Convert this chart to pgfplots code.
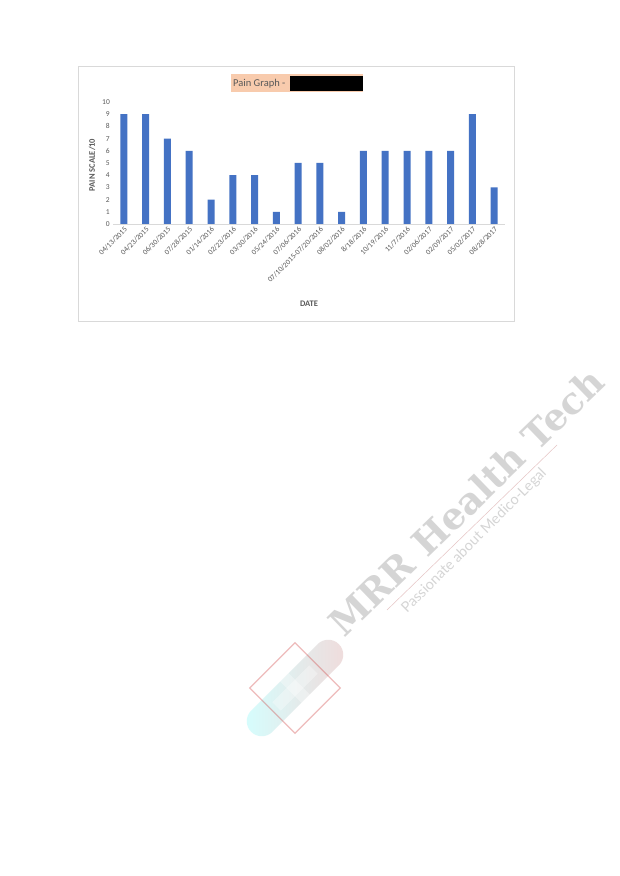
\documentclass[border=0pt]{standalone}
\usepackage{fontspec}
\setmainfont{Carlito}
\newfontfamily\wmfont{DejaVu Serif}
\newfontfamily\tagfont{Lato}
\usepackage{pgfplots}
\pgfplotsset{compat=1.18}
\definecolor{barblue}{HTML}{4472C4}
\definecolor{txtgray}{HTML}{595959}
\definecolor{peach}{HTML}{F8CBAD}
\definecolor{framegray}{HTML}{D9D9D9}
\begin{document}
\begin{tikzpicture}[x=1pt,y=1pt]
  % page
  \path[use as bounding box, fill=white] (0,0) rectangle (620,876);
  % chart frame
  \draw[framegray, line width=0.6] (78,555) rectangle (514,810);
  % title
  \fill[peach] (231,784) rectangle (363,802);
  \node[anchor=west, text=txtgray, font=\fontsize{10.5}{12}\selectfont, inner sep=0pt] at (233,792.5) {Pain Graph -};
  \fill[black] (290,785) rectangle (363,800);

  \begin{axis}[
      at={(113pt,652pt)}, anchor=south west,
      scale only axis, width=392pt, height=122pt,
      xmin=-0.5, xmax=17.5, ymin=0, ymax=10,
      ytick={0,1,...,10},
      xtick={0,1,...,17},
      xticklabels={04/13/2015,04/23/2015,06/30/2015,07/28/2015,01/14/2016,02/23/2016,03/30/2016,05/24/2016,07/06/2016,07/10/2015-07/20/2016,08/02/2016,8/18/2016,10/19/2016,11/7/2016,02/06/2017,02/09/2017,05/02/2017,08/28/2017},
      axis line style={draw=none},
      major tick length=0pt,
      tick label style={font=\fontsize{7.5}{8}\selectfont, text=txtgray},
      xticklabel style={rotate=45, anchor=north east, inner sep=1.5pt},
      yticklabel style={inner sep=3pt},
      /pgf/number format/assume math mode=true,
      clip=false,
    ]
    \draw[framegray, line width=0.6] (axis cs:-0.5,0) -- (axis cs:17.5,0);
    \addplot[ybar, bar width=7pt, fill=barblue, draw=none] coordinates {
      (0,9) (1,9) (2,7) (3,6) (4,2) (5,4) (6,4) (7,1) (8,5)
      (9,5) (10,1) (11,6) (12,6) (13,6) (14,6) (15,6) (16,9) (17,3)
    };
  \end{axis}

  % axis titles
  \node[rotate=90, text=txtgray, font=\fontsize{8.5}{10}\selectfont\bfseries] at (92,711) {PAIN SCALE/10};
  \node[text=txtgray, font=\fontsize{8.5}{10}\selectfont\bfseries] at (309,572) {DATE};

  % watermark
  \begin{scope}[opacity=0.33]
    \node[rotate=44, anchor=base west, inner sep=0pt, text=gray, font=\fontsize{37}{37}\wmfont\bfseries] at (344,237) {MRR Health Tech};
    \draw[red!40!gray, line width=0.5] (387,266) -- (557,431);
    \node[rotate=45, anchor=base west, inner sep=0pt, text=gray, font=\fontsize{14.5}{15}\tagfont] at (407,262) {Passionate about Medico-Legal};
    \begin{scope}[shift={(295,188)}, rotate=45]
      \shade[left color=cyan!50, right color=red!45!gray!60, rounded corners=15pt] (-62,-15) rectangle (62,15);
      \draw[red!60!gray, line width=1.2] (-32,-32) rectangle (32,32);
      \fill[white] (-6,-26) rectangle (6,26);
      \fill[white] (-26,-6) rectangle (26,6);
    \end{scope}
  \end{scope}
\end{tikzpicture}
\end{document}
